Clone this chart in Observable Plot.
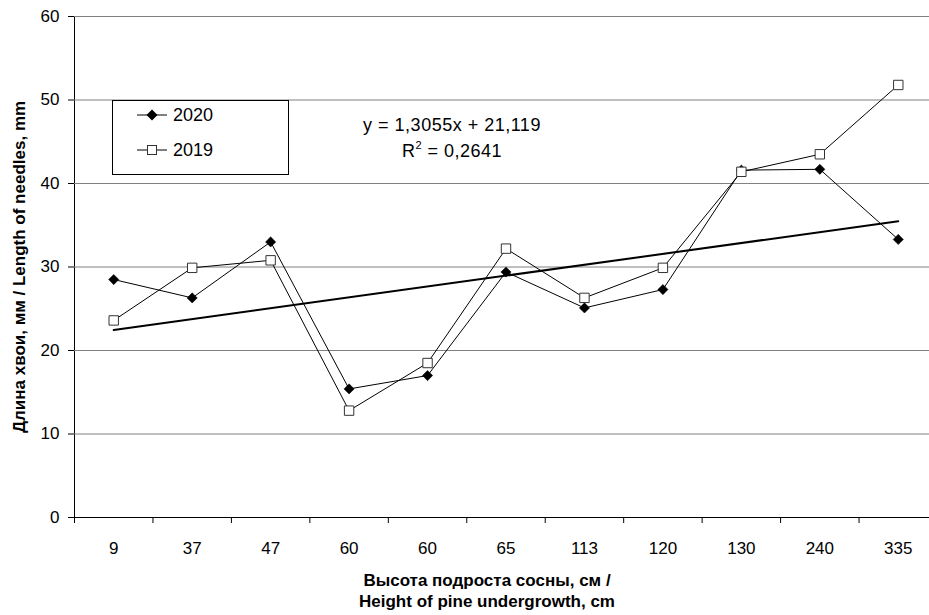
<!DOCTYPE html>
<html>
<head>
<meta charset="utf-8">
<script src="https://cdn.jsdelivr.net/npm/d3@7"></script>
<script src="https://cdn.jsdelivr.net/npm/@observablehq/plot@0.6"></script>
<style>
  html, body { margin: 0; padding: 0; background: #fff; }
  #wrap { position: relative; width: 929px; height: 615px; font-family: Arial, "Liberation Sans", sans-serif; }
  #legend { position: absolute; left: 112px; top: 100px; width: 175px; height: 73px; border: 1px solid #000; background: #fff; }
  .entry { position: absolute; left: 24px; height: 20px; display: flex; align-items: center; font-size: 18px; color: #000; }
  .entry svg { margin-right: 6px; }
  #eq { position: absolute; left: 332px; top: 112px; width: 240px; text-align: center; font-size: 18px; letter-spacing: 0.5px; line-height: 26px; color: #000; }
  #eq sup { font-size: 11px; vertical-align: 0; position: relative; top: -8px; }
</style>
</head>
<body>
<div id="wrap">
  <div id="chart"></div>
  <div id="legend"></div>
  <div id="eq"></div>
</div>
<script>
const categories = ["9", "37", "47", "60", "60", "65", "113", "120", "130", "240", "335"];
const values2020 = [28.5, 26.3, 33.0, 15.4, 17.0, 29.4, 25.1, 27.3, 41.6, 41.7, 33.3];
const values2019 = [23.6, 29.9, 30.8, 12.8, 18.5, 32.2, 26.3, 29.9, 41.4, 43.5, 51.8];
const yTicks = [0, 10, 20, 30, 40, 50, 60];
const seriesNames = ["2020", "2019"];
const equationLine1 = "y = 1,3055x + 21,119";
const equationLine2 = ["R", "2", " = 0,2641"];
const xTitle = "Высота подроста сосны, см /\nHeight of pine undergrowth, cm";
const yTitle = "Длина хвои, мм / Length of needles, mm";

const rows2020 = categories.map((c, i) => ({pos: i + 0.5, cat: c, value: values2020[i]}));
const rows2019 = categories.map((c, i) => ({pos: i + 0.5, cat: c, value: values2019[i]}));
const boundaries = d3.range(categories.length + 1);

const chart = Plot.plot({
  width: 929,
  height: 615,
  marginLeft: 74,
  marginRight: 0,
  marginTop: 16,
  marginBottom: 98,
  style: {fontFamily: "Arial, 'Liberation Sans', sans-serif", fontSize: "17px", color: "#000", background: "#fff", overflow: "visible"},
  x: {type: "linear", domain: [0, categories.length], range: [74, 937], ticks: boundaries, tickFormat: () => "", tickSize: 6, label: null},
  y: {domain: [0, 60], ticks: yTicks, tickSize: 6, tickPadding: 9, label: null, line: true},
  marks: [
    Plot.ruleY(yTicks.filter(d => d > 0), {stroke: "#808080", strokeWidth: 1}),
    Plot.ruleY([0], {stroke: "#000", strokeWidth: 1}),
    Plot.line(rows2020, {x: "pos", y: "value", stroke: "#000", strokeWidth: 1}),
    Plot.line(rows2019, {x: "pos", y: "value", stroke: "#000", strokeWidth: 1}),
    Plot.linearRegressionY(rows2020, {x: "pos", y: "value", stroke: "#000", strokeWidth: 2, ci: 0}),
    Plot.dot(rows2020, {x: "pos", y: "value", symbol: "diamond2", r: 4.6, fill: "#000", stroke: "#000", strokeWidth: 0.5}),
    Plot.dot(rows2019, {x: "pos", y: "value", symbol: "square", r: 5.3, fill: "#fff", stroke: "#333", strokeWidth: 1}),
    Plot.text(rows2020, {x: "pos", text: "cat", frameAnchor: "bottom", lineAnchor: "middle", dy: 31, fill: "#000", fontSize: 17}),
    Plot.text([xTitle], {frameAnchor: "bottom", textAnchor: "middle", lineAnchor: "middle", dx: -15, dy: 72, lineHeight: 1.25, fontWeight: "bold", fontSize: 17, fill: "#000"}),
    Plot.text([yTitle], {frameAnchor: "left", textAnchor: "middle", lineAnchor: "middle", dx: -55, rotate: -90, fontWeight: "bold", fontSize: 17, fill: "#000"})
  ]
});
document.getElementById("chart").appendChild(chart);

// legend
const legend = document.getElementById("legend");
const symbolsSvg = [
  '<svg width="30" height="14"><line x1="0" y1="7" x2="30" y2="7" stroke="#000" stroke-width="1"/><path d="M15,1.5L20.5,7L15,12.5L9.5,7Z" fill="#000"/></svg>',
  '<svg width="30" height="14"><line x1="0" y1="7" x2="30" y2="7" stroke="#000" stroke-width="1"/><rect x="10.5" y="2.5" width="9" height="9" fill="#fff" stroke="#333" stroke-width="1"/></svg>'
];
seriesNames.forEach((name, i) => {
  const e = document.createElement("div");
  e.className = "entry";
  e.style.top = (i === 0 ? 4 : 39) + "px";
  e.innerHTML = symbolsSvg[i];
  const t = document.createElement("span");
  t.textContent = name;
  e.appendChild(t);
  legend.appendChild(e);
});

// equation
const eq = document.getElementById("eq");
const l1 = document.createElement("div");
l1.textContent = equationLine1;
const l2 = document.createElement("div");
l2.appendChild(document.createTextNode(equationLine2[0]));
const sup = document.createElement("sup");
sup.textContent = equationLine2[1];
l2.appendChild(sup);
l2.appendChild(document.createTextNode(equationLine2[2]));
eq.appendChild(l1);
eq.appendChild(l2);
</script>
</body>
</html>
